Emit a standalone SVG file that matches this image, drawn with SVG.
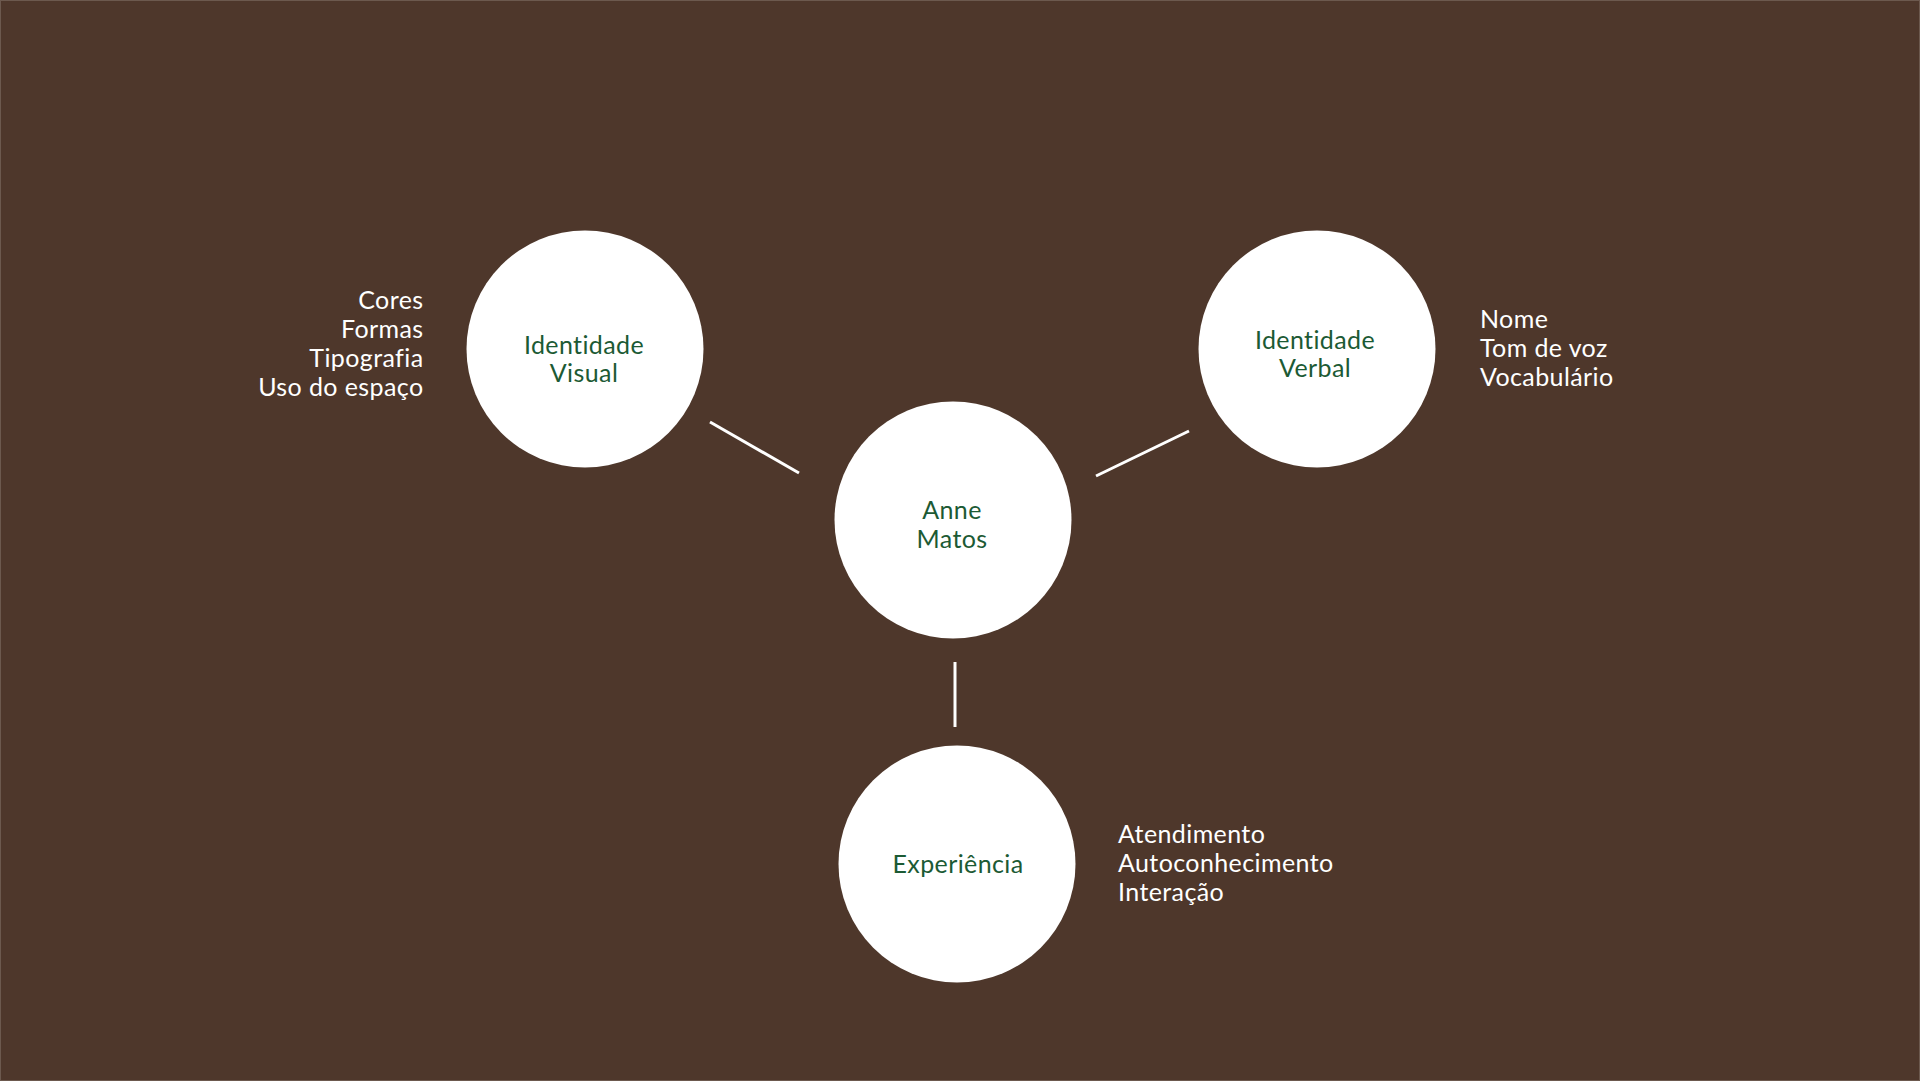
<svg xmlns="http://www.w3.org/2000/svg" width="1920" height="1081" viewBox="0 0 1920 1081">
<style>
.bg{fill:#4e372b}
.node circle{fill:#ffffff}
.node text{font-family:Lato,"Liberation Sans",sans-serif;font-size:25px;letter-spacing:0.4px;font-variant-ligatures:none;fill:#1c5a34;text-anchor:middle}
.list{font-family:Lato,"Liberation Sans",sans-serif;font-size:25px;letter-spacing:0.4px;font-variant-ligatures:none;fill:#ffffff}
.edge{stroke:#ffffff;stroke-width:3;stroke-linecap:butt}
</style>
<rect class="bg" x="0" y="0" width="1920" height="1081"/>
<rect x="0.5" y="0.5" width="1919" height="1080" fill="none" stroke="#8a7b72" stroke-width="1" opacity="0.5"/>
<g id="connectors">
<line class="edge" x1="710" y1="422" x2="799" y2="473"/>
<line class="edge" x1="1096" y1="476" x2="1189" y2="431"/>
<line class="edge" x1="955" y1="662" x2="955" y2="727"/>
</g>
<g id="node-identidade-visual" class="node">
<circle cx="585" cy="349" r="118.5"/>
<text x="584" y="354">Identidade</text>
<text x="584" y="382">Visual</text>
</g>
<g id="node-identidade-verbal" class="node">
<circle cx="1317" cy="349" r="118.5"/>
<text x="1315" y="349">Identidade</text>
<text x="1315" y="377">Verbal</text>
</g>
<g id="node-anne-matos" class="node">
<circle cx="953" cy="520" r="118.5"/>
<text x="952" y="519">Anne</text>
<text x="952" y="548">Matos</text>
</g>
<g id="node-experiencia" class="node">
<circle cx="957" cy="864" r="118.5"/>
<text x="958" y="873">Experiência</text>
</g>
<g id="list-visual" class="list" text-anchor="end">
<text x="423.5" y="309">Cores</text>
<text x="423.5" y="338">Formas</text>
<text x="423.5" y="367">Tipografia</text>
<text x="423.5" y="396">Uso do espaço</text>
</g>
<g id="list-verbal" class="list">
<text x="1480" y="328">Nome</text>
<text x="1480" y="357">Tom de voz</text>
<text x="1480" y="386">Vocabulário</text>
</g>
<g id="list-experiencia" class="list">
<text x="1118" y="843">Atendimento</text>
<text x="1118" y="872">Autoconhecimento</text>
<text x="1118" y="901">Interação</text>
</g>
</svg>
